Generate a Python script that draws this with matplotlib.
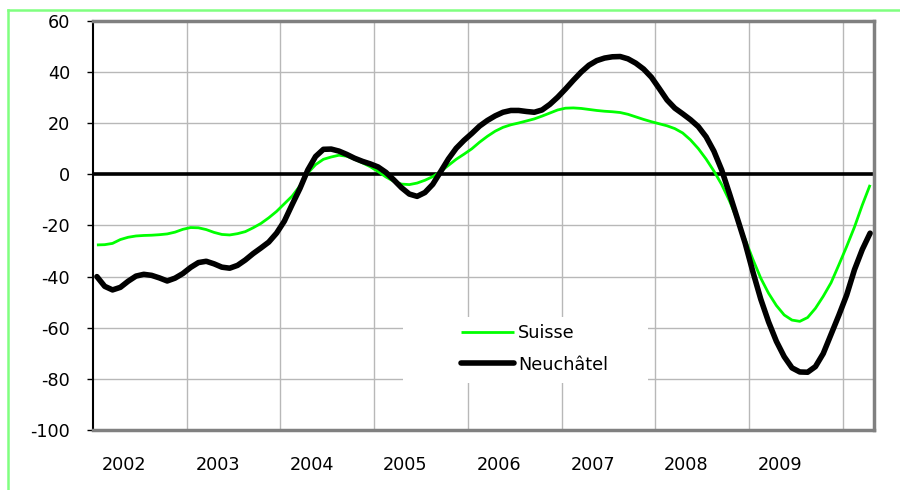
import numpy as np
import matplotlib
matplotlib.use("Agg")
import matplotlib.pyplot as plt
from matplotlib.patches import Rectangle


# monthly values, one per category (100 months)
Suisse = [-27.6, -27.5, -27.0, -25.5, -24.6, -24.1, -23.9, -23.8, -23.6, -23.3,
          -22.6, -21.5, -20.8, -20.9, -21.6, -22.7, -23.5, -23.7, -23.2, -22.4,
          -20.9, -19.2, -17.0, -14.5, -11.5, -8.5, -4.5, 0.5, 3.8, 5.9,
          6.8, 7.5, 7.1, 5.9, 4.5, 3.0, 1.1, -1.0, -2.7, -3.8,
          -4.0, -3.4, -2.3, -0.9, 1.1, 3.5, 5.9, 7.9, 10.0, 12.6,
          14.9, 16.9, 18.4, 19.4, 20.1, 20.9, 21.7, 22.8, 24.0, 25.2,
          25.9, 26.0, 25.8, 25.4, 25.0, 24.7, 24.5, 24.2, 23.5, 22.5,
          21.5, 20.6, 19.8, 19.0, 17.9, 16.2, 13.5, 10.1, 6.0, 1.3,
          -4.0, -10.4, -17.8, -25.4, -33.3, -40.6, -46.5, -51.3, -55.0, -57.0,
          -57.5, -56.0, -52.4, -47.7, -42.4, -35.4, -28.2, -20.6, -12.0, -4.1]

Neuchatel = [-40.0, -43.8, -45.2, -44.2, -41.8, -39.8, -39.1, -39.5, -40.5, -41.7,
             -40.6, -38.8, -36.4, -34.5, -34.0, -35.0, -36.3, -36.7, -35.6, -33.5,
             -31.0, -28.8, -26.5, -23.0, -18.3, -11.8, -5.5, 1.7, 7.0, 9.8,
             9.9, 9.1, 7.8, 6.3, 5.1, 4.1, 2.9, 0.8, -2.1, -5.2,
             -7.7, -8.6, -7.1, -3.9, 1.0, 6.0, 10.2, 13.3, 16.0, 18.9,
             21.1, 22.9, 24.3, 25.0, 25.0, 24.6, 24.3, 25.2, 27.4, 30.2,
             33.4, 36.8, 40.0, 42.7, 44.5, 45.5, 46.0, 46.1, 45.2, 43.5,
             41.2, 38.0, 33.6, 29.1, 25.9, 23.7, 21.4, 18.7, 14.7, 9.1,
             1.7, -7.6, -17.2, -26.9, -38.2, -48.8, -57.7, -65.3, -71.3, -75.7,
             -77.3, -77.4, -75.2, -70.1, -62.6, -55.1, -47.2, -37.3, -29.4, -23.0]

Years = ["2002", "2003", "2004", "2005", "2006", "2007", "2008", "2009"]
YTicks = [60, 40, 20, 0, -20, -40, -60, -80, -100]


plt.rcParams["font.family"] = ["DejaVu Sans"]
plt.rcParams["axes.unicode_minus"] = False

fig = plt.figure(figsize=(9, 4.9), dpi=100)
ax = fig.add_axes([93 / 900, 60 / 490, 781 / 900, 409 / 490])

N = len(Suisse)
x = np.arange(N) + 0.5

ax.plot(x, Suisse, color="#00ff00", lw=2.0, zorder=3, label="Suisse", solid_capstyle="butt")
ax.plot(x, Neuchatel, color="black", lw=4.0, zorder=4, label="Neuchâtel", solid_capstyle="round")
ax.axhline(0, color="black", lw=2.6, zorder=2.5)

ax.set_xlim(0, N)
ax.set_ylim(-100, 60)

# year boundaries as minor ticks (gridlines), year labels as major ticks
ax.set_xticks(np.arange(12, N, 12), minor=True)
ax.set_xticks(np.arange(len(Years)) * 12 + 4)
ax.set_xticklabels(Years, fontsize=12.7)
ax.tick_params(axis="x", which="both", length=0, pad=19)
ax.set_yticks(YTicks)
ax.set_yticklabels([str(v) for v in YTicks], fontsize=12.7)
ax.tick_params(axis="y", length=4.5, width=1, pad=12, color="black")

ax.grid(axis="x", which="minor", color="#b8b8b8", lw=1.0)
ax.grid(axis="y", which="major", color="#b8b8b8", lw=1.0)
ax.set_axisbelow(True)

for s in ["top", "right", "bottom"]:
    ax.spines[s].set_color("#808080")
    ax.spines[s].set_linewidth(2.5)
ax.spines["left"].set_color("black")
ax.spines["left"].set_linewidth(1.5)

# white block behind the legend
ax.add_patch(Rectangle((0.397, 0.115), 0.314, 0.161, transform=ax.transAxes,
                       facecolor="white", edgecolor="none", zorder=1.8))
ax.legend(loc="center left", bbox_to_anchor=((452 - 93) / 781, (430 - 349) / 409),
          frameon=False, borderpad=0, fontsize=12.7, handlelength=3.0,
          handletextpad=0.25, labelspacing=0.75)

# light green frame of the picture (only top and left visible)
fig.add_artist(plt.Line2D([7.5 / 900, 7.5 / 900], [0, 1 - 10 / 490], color="#80ff80", lw=1.8,
                          transform=fig.transFigure))
fig.add_artist(plt.Line2D([7.5 / 900, 1], [1 - 10 / 490, 1 - 10 / 490], color="#80ff80", lw=1.8,
                          transform=fig.transFigure))

fig.savefig("out.png", dpi=100)
